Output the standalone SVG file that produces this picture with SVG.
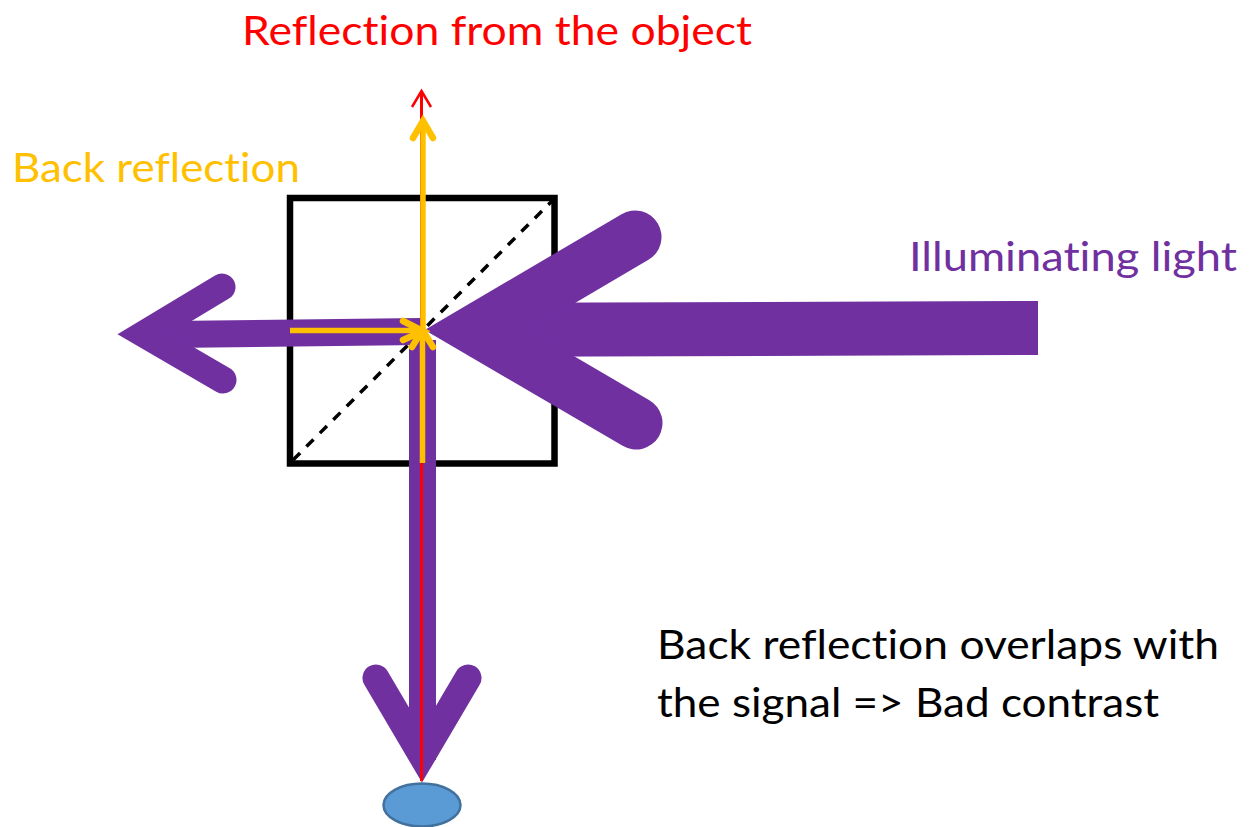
<svg xmlns="http://www.w3.org/2000/svg" width="1254" height="827" viewBox="0 0 1254 827">
<style>
text{font-family:Lato,"Open Sans","Liberation Sans",sans-serif;font-size:40px;font-variant-ligatures:none}
.p{fill:none;stroke:#7030A0;stroke-linecap:round;stroke-linejoin:miter;stroke-miterlimit:10}
.y{fill:none;stroke:#FFC000;stroke-width:5.5}
.yh{fill:none;stroke:#FFC000;stroke-width:6.5;stroke-linecap:round;stroke-linejoin:miter}
.r{fill:none;stroke:#FF0000}
</style>
<rect width="1254" height="827" fill="#fff"/>
<g id="cube">
<rect x="290" y="198" width="264.500" height="265.500" fill="none" stroke="#000" stroke-width="6.500"/>
<line x1="293" y1="460" x2="552" y2="201" stroke="#000" stroke-width="3.500" stroke-dasharray="10 9"/>
</g>
<g id="object"><ellipse cx="422" cy="805" rx="38.500" ry="21.500" fill="#5B9BD5" stroke="#41719C" stroke-width="2.500"/></g>
<g id="connectors">
<g id="illuminating">
<polygon points="1038,301 1038,355 470,357 470,303" fill="#7030A0"/>
<polyline class="p" stroke-width="53" points="635,237 477,330 636,423"/>
</g>
<g id="reflected-left">
<polygon points="421,318 421,345 170,348 170,321" fill="#7030A0"/>
<polyline class="p" stroke-width="27" points="222,287 144,334 223,380"/>
</g>
<g id="to-object">
<rect x="409" y="340" width="27" height="420" fill="#7030A0"/>
<polyline class="p" stroke-width="27" points="376,678 422,756 468,678"/>
</g>
<g id="signal">
<line class="r" stroke-width="3" x1="421.500" y1="92" x2="421.500" y2="781"/>
<polyline class="r" stroke-width="2.500" points="412,107 421.500,91 431,107"/>
</g>
<g id="back-reflection">
<line class="y" x1="423" y1="122" x2="423" y2="330"/>
<polyline class="yh" points="413,138 423,121 433,138"/>
<line class="y" x1="290" y1="330.500" x2="422" y2="330.500"/>
<polyline class="yh" points="403,321 423,331 403,340"/>
<line class="y" x1="422.500" y1="332" x2="422.500" y2="463"/>
<polyline class="yh" points="412,347 422.500,330 433,347"/>
</g>
</g>
<g id="labels">
<text x="242" y="45" fill="#FF0000" textLength="510" lengthAdjust="spacingAndGlyphs">Reflection from the object</text>
<text x="12" y="182" fill="#FFC000" textLength="288" lengthAdjust="spacingAndGlyphs">Back reflection</text>
<text x="909" y="271" fill="#7030A0" textLength="328" lengthAdjust="spacingAndGlyphs">Illuminating light</text>
<text x="657" y="659" fill="#000" textLength="562" lengthAdjust="spacingAndGlyphs">Back reflection overlaps with</text>
<text x="657" y="717" fill="#000" textLength="502" lengthAdjust="spacingAndGlyphs">the signal =&gt; Bad contrast</text>
</g>
</svg>
